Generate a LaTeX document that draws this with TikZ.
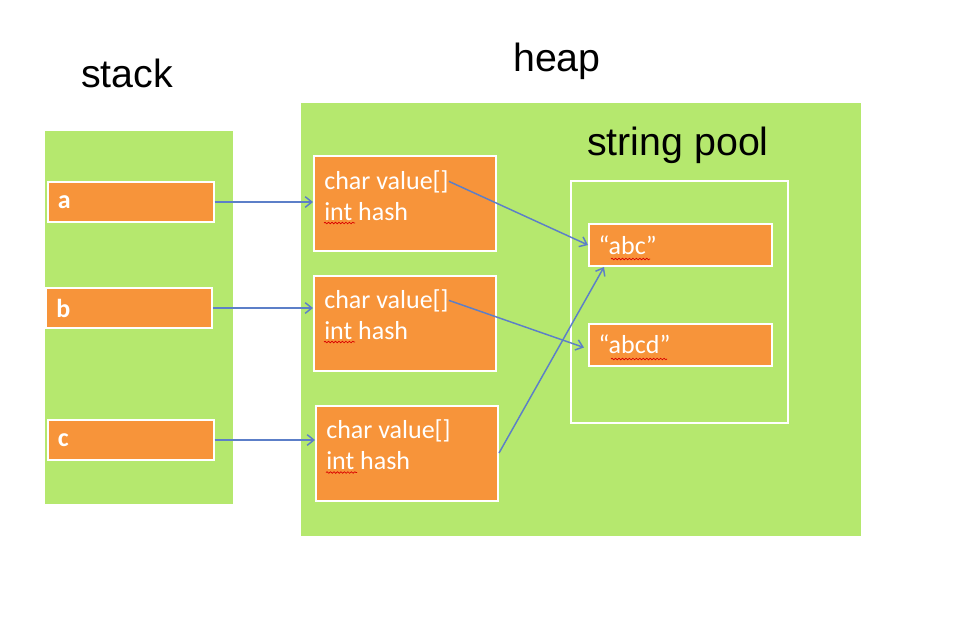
\documentclass[tikz,border=0pt]{standalone}
\usepackage{fontspec}
\setmainfont{Liberation Sans}
\newfontfamily\boxfont{Carlito}
\usetikzlibrary{arrows.meta, calc, decorations.pathmorphing}
\definecolor{heapgreen}{RGB}{181,232,110}
\definecolor{cellorange}{RGB}{247,148,58}
\definecolor{ptrblue}{RGB}{92,127,200}
\tikzset{
  area/.style={
    rectangle, fill=heapgreen, draw=none, inner sep=0pt
  },
  poolbox/.style={
    rectangle, draw=white, line width=1.5pt, inner sep=0pt
  },
  title/.style={
    inner sep=0pt, font=\fontsize{29.5}{34}\selectfont
  },
  stackbox/.style={
    rectangle, fill=cellorange, draw=white, line width=1.5pt,
    minimum width=124.5pt, minimum height=30pt, inner xsep=7.5pt,
    text width=109pt, align=left, text=white,
    font=\boxfont\bfseries\fontsize{19.5}{23}\selectfont
  },
  objbox/.style={
    rectangle, fill=cellorange, draw=white, line width=1.5pt,
    minimum width=136.5pt, minimum height=71.25pt
  },
  objtxt/.style={
    inner sep=0pt, text=white, font=\boxfont\fontsize{19.5}{23}\selectfont
  },
  strbox/.style={
    rectangle, fill=cellorange, draw=white, line width=1.5pt,
    minimum width=137.25pt, minimum height=31.5pt, inner xsep=6.75pt,
    text width=123pt, align=left, text=white,
    font=\boxfont\fontsize{19.5}{23}\selectfont
  },
  ptr/.style={-{Straight Barb[length=5pt, width=8pt]}, draw=ptrblue, line width=1.1pt},
  wavy/.style={draw=red!85!black, line width=0.5pt, decorate,
    decoration={snake, amplitude=0.6pt, segment length=2.6pt}}
}

\begin{document}
\begin{tikzpicture}[x=0.75pt, y=-0.75pt]
\useasboundingbox (0,0) rectangle (972,626);

% areas
\node[area, minimum width=141pt, minimum height=279.75pt] (stack) at (139,317.5) {};
\node[area, minimum width=420pt, minimum height=324.75pt] (heap) at (581,319.5) {};
\node[poolbox, minimum width=162.75pt, minimum height=181.5pt] (pool) at (679.5,302) {};

\node[title, anchor=base] (stacklbl) at (127,87) {stack};
\node[title, anchor=base] (heaplbl) at (557,71) {heap};
\node[title, anchor=base] (poollbl) at (678,155) {string pool};

% stack references
\node[stackbox] (a) at (130.5,202) {a};
\node[stackbox] (b) at (129,308) {b};
\node[stackbox] (c) at (130.5,440) {c};

% string objects
\node[objbox] (o1) at (405,203.5) {};
\node[objtxt, anchor=base west] (o1v) at ($(o1.north west)+(11,34)$) {char value[]};
\node[objtxt, anchor=base west] (o1h) at ($(o1.north west)+(11,65)$) {int hash};
\node[objbox] (o2) at (405,323.5) {};
\node[objtxt, anchor=base west] (o2v) at ($(o2.north west)+(11,33)$) {char value[]};
\node[objtxt, anchor=base west] (o2h) at ($(o2.north west)+(11,64)$) {int hash};
\node[objbox] (o3) at (407,453) {};
\node[objtxt, anchor=base west] (o3v) at ($(o3.north west)+(11,34)$) {char value[]};
\node[objtxt, anchor=base west] (o3h) at ($(o3.north west)+(11,65)$) {int hash};

% pooled literals
\node[strbox] (abc) at (680.5,245) {“abc”};
\node[strbox] (abcd) at (680.5,344.5) {“abcd”};

% spell-check marks
\draw[wavy] ($(o1h.base west)+(0,3)$) -- ++(31,0);
\draw[wavy] ($(o2h.base west)+(0,3)$) -- ++(31,0);
\draw[wavy] ($(o3h.base west)+(0,3)$) -- ++(31,0);
\draw[wavy] ($(abc.west)+(23,14)$) -- ++(39,0);
\draw[wavy] ($(abcd.west)+(23,14.5)$) -- ++(56,0);

% pointers
\draw[ptr] (a.east) -- (a.east -| o1.west);
\draw[ptr] (b.east) -- (b.east -| o2.west);
\draw[ptr] (c.east) -- (c.east -| o3.west);
\draw[ptr] (o1v.east) -- (abc.west);
\draw[ptr] (o2v.east) -- ($(abcd.west)+(-4,3)$);
\draw[ptr] (o3.east) -- ($(abc.south west)+(16,0)$);

\end{tikzpicture}
\end{document}
